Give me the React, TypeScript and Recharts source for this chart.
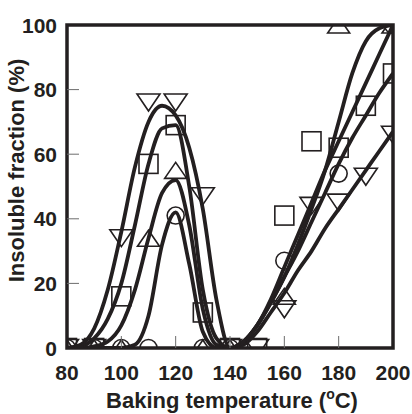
import React from "react";
import { ComposedChart, Line, Scatter, XAxis, YAxis, ReferenceArea } from "recharts";

const INK = "#231f20";
const FONT = "'Liberation Sans', Arial, Helvetica, sans-serif";

// measured points
const temps = [80, 90, 100, 110, 120, 130, 140, 150, 160, 170, 180, 190, 200];
const downTri = [0, 0, 34, 76, 76, 47, 0, 0, 12, 44, 45, 53, 66];
const squares = [0, 0, 16, 57, 69, 11, 0, 0, 41, 64, 62, 75, 85];
const upTri = [0, 0, 0, 34, 55, 0, 0, null, 16, null, 100, null, 100];
const circles = [0, 0, 0, 0, 41, 0, 0, null, 27, null, 54, null, 100];

const curveTemps = [80, 85, 90, 95, 100, 105, 110, 115, 120, 125, 130, 135, 140, 145, 150, 155, 160, 165, 170, 175, 180, 185, 190, 195, 200];
const downCurve = [0, 1, 6, 18, 36, 56, 70, 75, 72, 62, 43, 15, 0, 1, 5, 11, 17, 24, 30, 37, 43, 49, 55, 61, 67];
const squareCurve = [0, 0.5, 3, 9, 20, 38, 57, 68, 69, 50, 18, 3, 0, 2, 7, 14, 22, 30, 39, 48, 57, 65, 72, 79, 85];
const upCurve = [0, 0, 0.5, 2, 7, 18, 34, 48, 52, 38, 12, 1, 0, 2, 7, 14, 22, 32, 43, 55, 70, 85, 95, 99, 100];
const circleCurve = [0, 0, 0, 0, 0, 1, 10, 32, 42, 26, 5, 0, 0, 2, 7, 15, 25, 35, 45, 55, 64, 73, 82, 91, 100];

const xTicks = [80, 100, 120, 140, 160, 180, 200];
const yTicks = [0, 20, 40, 60, 80, 100];

const pts = (vals: (number | null)[]) =>
  temps.map((t, i) => ({ t, v: vals[i] })).filter((d) => d.v !== null);
const curve = (vals: number[]) => curveTemps.map((t, i) => ({ t, v: vals[i] }));

const mk = { fill: "none", stroke: INK, strokeWidth: 1.6 };

const DownTri = ({ cx, cy }: any) => (
  <path d={`M${cx - 11.5},${cy - 8.5}L${cx + 11.5},${cy - 8.5}L${cx},${cy + 8.5}Z`} {...mk} />
);
const UpTri = ({ cx, cy }: any) => (
  <path d={`M${cx - 11},${cy + 8}L${cx + 11},${cy + 8}L${cx},${cy - 8}Z`} {...mk} />
);
const Square = ({ cx, cy }: any) => <rect x={cx - 9.5} y={cy - 9.5} width={19} height={19} {...mk} />;
const Circle = ({ cx, cy }: any) => <circle cx={cx} cy={cy} r={8.5} {...mk} />;

const YTick = ({ x, y, payload }: any) => (
  <g>
    {payload.value > 0 && payload.value < 100 && (
      <line x1={x} x2={x + 12} y1={y} y2={y} stroke="#6d6d6d" strokeWidth={1} />
    )}
    <text x={x - 10} y={y + 7.5} textAnchor="end" fontSize={21} fontWeight="bold" fill={INK} fontFamily={FONT}>
      {payload.value}
    </text>
  </g>
);

const XTick = ({ x, y, payload }: any) => (
  <g>
    {payload.value > 80 && payload.value < 200 && (
      <line x1={x} x2={x} y1={y} y2={y - 12} stroke="#6d6d6d" strokeWidth={1} />
    )}
    <text x={x} y={y + 32} textAnchor="middle" fontSize={21} fontWeight="bold" fill={INK} fontFamily={FONT}>
      {payload.value}
    </text>
  </g>
);

const XTitle = ({ viewBox }: any) => (
  <text x={viewBox.x + viewBox.width / 2 + 2} y={viewBox.y + 60} textAnchor="middle" fontSize={22} fontWeight="bold" fill={INK} fontFamily={FONT}>
    Baking temperature (<tspan fontSize={14} dy={-9}>o</tspan>
    <tspan dy={9}>C)</tspan>
  </text>
);

const YTitle = ({ viewBox }: any) => {
  const cx = 16;
  const cy = viewBox.y + viewBox.height / 2 - 16;
  return (
    <text x={cx} y={cy} transform={`rotate(-90 ${cx} ${cy})`} textAnchor="middle" dominantBaseline="central" fontSize={22} fontWeight="bold" fill={INK} fontFamily={FONT}>
      Insoluble fraction (%)
    </text>
  );
};

const series = [
  { name: "down", pts: downTri, line: downCurve, shape: DownTri },
  { name: "square", pts: squares, line: squareCurve, shape: Square },
  { name: "up", pts: upTri, line: upCurve, shape: UpTri },
  { name: "circle", pts: circles, line: circleCurve, shape: Circle },
];

export default function App() {
  return (
    <div style={{ position: "absolute", left: 0, top: 0, background: "#fff" }}>
      <ComposedChart width={412} height={414} margin={{ top: 25, right: 19, bottom: 0, left: 0 }}>
        <XAxis
          type="number"
          dataKey="t"
          domain={[80, 200]}
          ticks={xTicks}
          height={66}
          axisLine={false}
          tickLine={false}
          tickSize={0}
          tickMargin={0}
          tick={<XTick />}
          label={{ content: <XTitle /> }}
          allowDataOverflow
        />
        <YAxis
          type="number"
          dataKey="v"
          domain={[0, 100]}
          ticks={yTicks}
          width={67}
          axisLine={false}
          tickLine={false}
          tickSize={0}
          tickMargin={0}
          tick={<YTick />}
          label={{ content: <YTitle /> }}
          allowDataOverflow
        />
        <ReferenceArea x1={80} x2={200} y1={0} y2={100} fill="none" stroke={INK} strokeWidth={3.5} />
        {series.map((s) => (
          <Line
            key={s.name + "-line"}
            data={curve(s.line)}
            dataKey="v"
            type="monotone"
            stroke={INK}
            strokeWidth={3.8}
            dot={false}
            activeDot={false}
            isAnimationActive={false}
          />
        ))}
        {series.map((s) => {
          const Shape = s.shape;
          return (
            <Scatter
              key={s.name + "-pts"}
              data={pts(s.pts)}
              dataKey="v"
              shape={(p: any) => <Shape cx={p.cx} cy={p.cy} />}
              isAnimationActive={false}
            />
          );
        })}
      </ComposedChart>
    </div>
  );
}
